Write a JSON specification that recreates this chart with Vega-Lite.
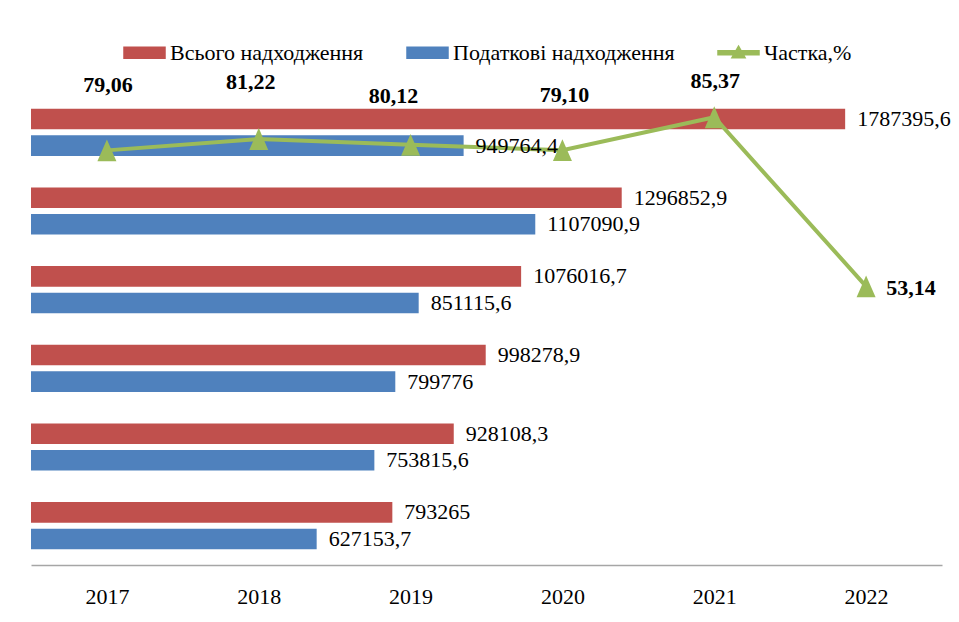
{
  "$schema": "https://vega.github.io/schema/vega-lite/v6.json",
  "width": 911,
  "height": 472,
  "autosize": {"type": "none"},
  "padding": {"left": 31, "top": 93, "right": 17, "bottom": 57},
  "background": "white",
  "datasets": {
    "bars": [
      {"year": "2017", "series": "Всього надходження", "value": 793265},
      {"year": "2017", "series": "Податкові надходження", "value": 627153.7},
      {"year": "2018", "series": "Всього надходження", "value": 928108.3},
      {"year": "2018", "series": "Податкові надходження", "value": 753815.6},
      {"year": "2019", "series": "Всього надходження", "value": 998278.9},
      {"year": "2019", "series": "Податкові надходження", "value": 799776},
      {"year": "2020", "series": "Всього надходження", "value": 1076016.7},
      {"year": "2020", "series": "Податкові надходження", "value": 851115.6},
      {"year": "2021", "series": "Всього надходження", "value": 1296852.9},
      {"year": "2021", "series": "Податкові надходження", "value": 1107090.9},
      {"year": "2022", "series": "Всього надходження", "value": 1787395.6},
      {"year": "2022", "series": "Податкові надходження", "value": 949764.4}
    ],
    "share": [
      {"year": "2017", "share": 79.06},
      {"year": "2018", "share": 81.22},
      {"year": "2019", "share": 80.12},
      {"year": "2020", "share": 79.10},
      {"year": "2021", "share": 85.37},
      {"year": "2022", "share": 53.14}
    ]
  },
  "config": {
    "font": "Liberation Serif",
    "view": {"stroke": null},
    "locale": {"number": {"decimal": ",", "thousands": " ", "grouping": [3], "currency": ["", ""]}}
  },
  "layer": [
    {
      "data": {"name": "bars"},
      "mark": {"type": "bar"},
      "encoding": {
        "y": {"field": "year", "type": "nominal", "sort": "descending", "axis": null,
              "scale": {"paddingInner": 0.4, "paddingOuter": 0.2}},
        "yOffset": {"field": "series", "type": "nominal",
                    "sort": ["Всього надходження", "Податкові надходження"],
                    "scale": {"paddingInner": 0.225, "paddingOuter": 0}},
        "x": {"field": "value", "type": "quantitative", "axis": null,
              "scale": {"domain": [0, 2000000], "nice": false, "zero": true}},
        "color": {
          "field": "series", "type": "nominal",
          "scale": {
            "domain": ["Всього надходження", "Податкові надходження", "Частка,%"],
            "range": ["#C0504D", "#4F81BD", "#9BBB59"]
          },
          "legend": {
            "orient": "none", "legendX": 92, "legendY": -62,
            "direction": "horizontal", "title": null,
            "symbolSize": 1681, "labelOffset": 4, "columnPadding": 40,
            "labelFont": "Liberation Serif", "labelFontSize": 22, "labelColor": "#000000",
            "labelLimit": 400,
            "encode": {
              "symbols": {
                "update": {
                  "shape": {"signal": "datum.value === 'Частка,%' ? 'M-1,-0.1H1V0.1H-1Z M0,-0.32L0.32,0.24L-0.32,0.24Z' : 'M-1,-0.27H1V0.27H-1Z'"},
                  "fill": {"signal": "datum.value === 'Частка,%' ? '#9BBB59' : datum.value === 'Всього надходження' ? '#C0504D' : '#4F81BD'"},
                  "stroke": {"value": "transparent"},
                  "opacity": {"value": 1},
                  "fillOpacity": {"value": 1}
                }
              }
            }
          }
        }
      }
    },
    {
      "data": {"name": "share"},
      "encoding": {
        "x": {"field": "year", "type": "ordinal",
              "scale": {"type": "point", "padding": 0.5},
              "axis": {"title": null, "ticks": false, "grid": false, "labelAngle": 0,
                       "domain": true, "domainColor": "#A6A6A6", "domainWidth": 1.5,
                       "labelFont": "Liberation Serif", "labelFontSize": 22,
                       "labelColor": "#000000", "labelPadding": 21}},
        "y": {"field": "share", "type": "quantitative", "axis": null,
              "scale": {"domain": [0, 90], "nice": false, "zero": true}}
      },
      "layer": [
        {
          "mark": {"type": "line", "strokeWidth": 4,
                   "point": {"filled": true, "shape": "M0,-1.15L1,1.15L-1,1.15Z", "size": 361}},
          "encoding": {"color": {"datum": "Частка,%"}}
        },
        {
          "transform": [{"filter": "datum.year === '2017'"}],
          "mark": {"type": "text", "fontWeight": "bold", "fontSize": 22, "baseline": "middle", "dx": 1, "dy": -65, "color": "#000000"},
          "encoding": {"text": {"field": "share", "type": "quantitative", "format": ".2f"}}
        },
        {
          "transform": [{"filter": "datum.year === '2018'"}],
          "mark": {"type": "text", "fontWeight": "bold", "fontSize": 22, "baseline": "middle", "dx": -8, "dy": -57, "color": "#000000"},
          "encoding": {"text": {"field": "share", "type": "quantitative", "format": ".2f"}}
        },
        {
          "transform": [{"filter": "datum.year === '2019'"}],
          "mark": {"type": "text", "fontWeight": "bold", "fontSize": 22, "baseline": "middle", "dx": -17, "dy": -49, "color": "#000000"},
          "encoding": {"text": {"field": "share", "type": "quantitative", "format": ".2f"}}
        },
        {
          "transform": [{"filter": "datum.year === '2020'"}],
          "mark": {"type": "text", "fontWeight": "bold", "fontSize": 22, "baseline": "middle", "dx": 2, "dy": -55, "color": "#000000"},
          "encoding": {"text": {"field": "share", "type": "quantitative", "format": ".2f"}}
        },
        {
          "transform": [{"filter": "datum.year === '2021'"}],
          "mark": {"type": "text", "fontWeight": "bold", "fontSize": 22, "baseline": "middle", "dx": 1, "dy": -36, "color": "#000000"},
          "encoding": {"text": {"field": "share", "type": "quantitative", "format": ".2f"}}
        },
        {
          "transform": [{"filter": "datum.year === '2022'"}],
          "mark": {"type": "text", "fontWeight": "bold", "fontSize": 22, "baseline": "middle", "dx": 45, "dy": 2, "color": "#000000"},
          "encoding": {"text": {"field": "share", "type": "quantitative", "format": ".2f"}}
        }
      ]
    },
    {
      "data": {"name": "bars"},
      "mark": {"type": "text", "align": "left", "baseline": "middle", "dx": 12,
               "fontSize": 22, "color": "#000000", "font": "Liberation Serif"},
      "encoding": {
        "y": {"field": "year", "type": "nominal", "sort": "descending", "axis": null,
              "scale": {"paddingInner": 0.4, "paddingOuter": 0.2}},
        "yOffset": {"field": "series", "type": "nominal",
                    "sort": ["Всього надходження", "Податкові надходження"],
                    "scale": {"paddingInner": 0.225, "paddingOuter": 0}},
        "x": {"field": "value", "type": "quantitative", "axis": null,
              "scale": {"domain": [0, 2000000], "nice": false, "zero": true}},
        "text": {"field": "value", "type": "quantitative", "format": ".1~f"}
      }
    }
  ],
  "resolve": {"scale": {"x": "independent", "y": "independent"}}
}
